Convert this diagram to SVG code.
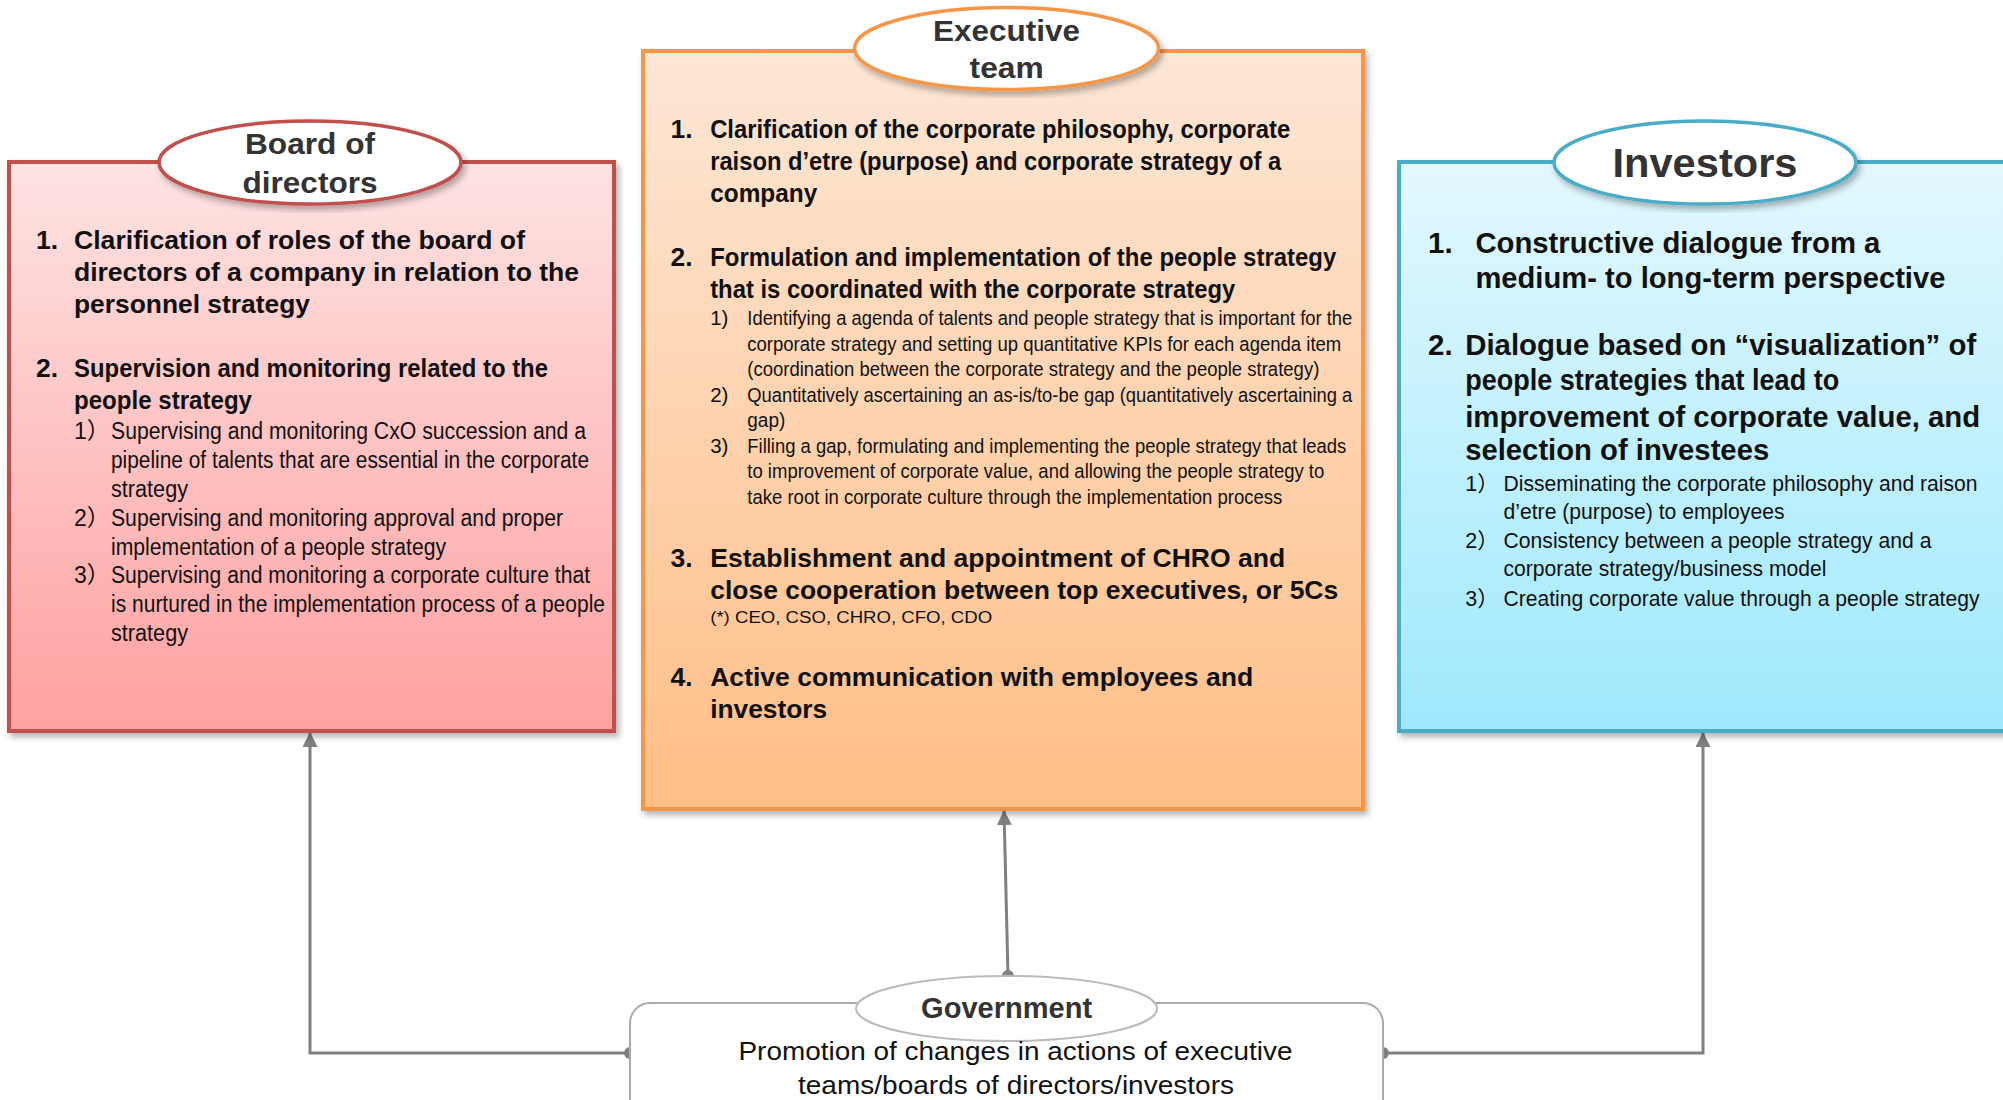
<svg xmlns="http://www.w3.org/2000/svg" width="2003" height="1100" viewBox="0 0 2003 1100">
  <defs>
    <linearGradient id="gRed" x1="0" y1="0" x2="0" y2="1">
      <stop offset="0" stop-color="#fee3e3"/>
      <stop offset="1" stop-color="#ffa1a1"/>
    </linearGradient>
    <linearGradient id="gOrange" x1="0" y1="0" x2="0" y2="1">
      <stop offset="0" stop-color="#fde7d6"/>
      <stop offset="1" stop-color="#ffbe86"/>
    </linearGradient>
    <linearGradient id="gBlue" x1="0" y1="0" x2="0" y2="1">
      <stop offset="0" stop-color="#e3f8fe"/>
      <stop offset="1" stop-color="#9fe9fd"/>
    </linearGradient>
    <filter id="shadow" x="-10%" y="-10%" width="120%" height="120%">
      <feDropShadow dx="3" dy="4" stdDeviation="3" flood-color="#000" flood-opacity="0.3"/>
    </filter>
    <marker id="arrow" viewBox="0 0 10 10" refX="10" refY="5" markerWidth="5" markerHeight="5" orient="auto" markerUnits="strokeWidth">
      <path d="M0,0 L10,5 L0,10 Z" fill="#808080"/>
    </marker>
    <marker id="dot" viewBox="0 0 10 10" refX="5" refY="5" markerWidth="4" markerHeight="4" orient="auto" markerUnits="strokeWidth">
      <circle cx="5" cy="5" r="5" fill="#808080"/>
    </marker>
  </defs>
  <style>
    text { font-family: "Liberation Sans", Arial, "Noto Sans CJK JP", sans-serif; fill: #111; }
    .h { font-weight: bold; font-size: 26.5px; }
    .hi { font-weight: bold; font-size: 29.5px; }
    .s { font-size: 23px; }
    .si { font-size: 21.5px; }
    .se { font-size: 20.5px; }
    .note { font-size: 16px; }
    .lab { font-weight: bold; font-size: 30px; fill: #333; text-anchor: middle; }
    .gov { font-size: 26px; text-anchor: middle; }
    .conn { fill: none; stroke: #808080; stroke-width: 3; }
  </style>

  <rect width="2003" height="1100" fill="#fff"/>

  <!-- connectors from the government node -->
  <g id="connectors">
    <polyline class="conn" points="630,1053 310,1053 310,732" marker-start="url(#dot)" marker-end="url(#arrow)"/>
    <polyline class="conn" points="1383,1053 1703,1053 1703,732" marker-start="url(#dot)" marker-end="url(#arrow)"/>
    <line class="conn" x1="1008" y1="976" x2="1004" y2="810" marker-start="url(#dot)" marker-end="url(#arrow)"/>
  </g>

  <!-- board of directors -->
  <g id="board">
    <rect x="9" y="162" width="605" height="569" fill="url(#gRed)" stroke="#c0504d" stroke-width="4" filter="url(#shadow)"/>
    <ellipse cx="310" cy="162.5" rx="151" ry="41.5" fill="#fff" stroke="#c0504d" stroke-width="3.5" filter="url(#shadow)"/>
    <text class="lab" x="310" y="154" textLength="130" lengthAdjust="spacingAndGlyphs">Board of</text>
    <text class="lab" x="310" y="193" textLength="135" lengthAdjust="spacingAndGlyphs">directors</text>

    <text class="h" x="36" y="249">1.</text>
    <text class="h" x="74" y="249" textLength="451" lengthAdjust="spacingAndGlyphs">Clarification of roles of the board of</text>
    <text class="h" x="74" y="281" textLength="505" lengthAdjust="spacingAndGlyphs">directors of a company in relation to the</text>
    <text class="h" x="74" y="313" textLength="236" lengthAdjust="spacingAndGlyphs">personnel strategy</text>

    <text class="h" x="36" y="377">2.</text>
    <text class="h" x="74" y="377" textLength="474" lengthAdjust="spacingAndGlyphs">Supervision and monitoring related to the</text>
    <text class="h" x="74" y="409" textLength="178" lengthAdjust="spacingAndGlyphs">people strategy</text>

    <text class="s" x="74" y="438.5">1）</text>
    <text class="s" x="111" y="438.5" textLength="475" lengthAdjust="spacingAndGlyphs">Supervising and monitoring CxO succession and a</text>
    <text class="s" x="111" y="468" textLength="478" lengthAdjust="spacingAndGlyphs">pipeline of talents that are essential in the corporate</text>
    <text class="s" x="111" y="497" textLength="77" lengthAdjust="spacingAndGlyphs">strategy</text>
    <text class="s" x="74" y="525.5">2）</text>
    <text class="s" x="111" y="525.5" textLength="452" lengthAdjust="spacingAndGlyphs">Supervising and monitoring approval and proper</text>
    <text class="s" x="111" y="555" textLength="335" lengthAdjust="spacingAndGlyphs">implementation of a people strategy</text>
    <text class="s" x="74" y="583">3）</text>
    <text class="s" x="111" y="583" textLength="479" lengthAdjust="spacingAndGlyphs">Supervising and monitoring a corporate culture that</text>
    <text class="s" x="111" y="612" textLength="494" lengthAdjust="spacingAndGlyphs">is nurtured in the implementation process of a people</text>
    <text class="s" x="111" y="640.5" textLength="77" lengthAdjust="spacingAndGlyphs">strategy</text>
  </g>

  <!-- executive team -->
  <g id="executive">
    <rect x="643" y="51" width="720" height="758" fill="url(#gOrange)" stroke="#f79646" stroke-width="4" filter="url(#shadow)"/>
    <ellipse cx="1006.6" cy="48.5" rx="152" ry="41" fill="#fff" stroke="#f79646" stroke-width="3.5" filter="url(#shadow)"/>
    <text class="lab" x="1006.6" y="41" textLength="147" lengthAdjust="spacingAndGlyphs">Executive</text>
    <text class="lab" x="1006.6" y="78" textLength="74" lengthAdjust="spacingAndGlyphs">team</text>

    <text class="h" x="670.6" y="138">1.</text>
    <text class="h" x="710.2" y="138" textLength="580" lengthAdjust="spacingAndGlyphs">Clarification of the corporate philosophy, corporate</text>
    <text class="h" x="710.2" y="170" textLength="571" lengthAdjust="spacingAndGlyphs">raison d’etre (purpose) and corporate strategy of a</text>
    <text class="h" x="710.2" y="202" textLength="107" lengthAdjust="spacingAndGlyphs">company</text>

    <text class="h" x="670.6" y="266">2.</text>
    <text class="h" x="710.2" y="266" textLength="626" lengthAdjust="spacingAndGlyphs">Formulation and implementation of the people strategy</text>
    <text class="h" x="710.2" y="298" textLength="525" lengthAdjust="spacingAndGlyphs">that is coordinated with the corporate strategy</text>

    <text class="se" x="710.2" y="325">1)</text>
    <text class="se" x="747.3" y="325" textLength="605" lengthAdjust="spacingAndGlyphs">Identifying a agenda of talents and people strategy that is important for the</text>
    <text class="se" x="747.3" y="350.6" textLength="594" lengthAdjust="spacingAndGlyphs">corporate strategy and setting up quantitative KPIs for each agenda item</text>
    <text class="se" x="747.3" y="376" textLength="572" lengthAdjust="spacingAndGlyphs">(coordination between the corporate strategy and the people strategy)</text>
    <text class="se" x="710.2" y="401.7">2)</text>
    <text class="se" x="747.3" y="401.7" textLength="605" lengthAdjust="spacingAndGlyphs">Quantitatively ascertaining an as-is/to-be gap (quantitatively ascertaining a</text>
    <text class="se" x="747.3" y="427" textLength="38" lengthAdjust="spacingAndGlyphs">gap)</text>
    <text class="se" x="710.2" y="452.8">3)</text>
    <text class="se" x="747.3" y="452.8" textLength="599" lengthAdjust="spacingAndGlyphs">Filling a gap, formulating and implementing the people strategy that leads</text>
    <text class="se" x="747.3" y="478.4" textLength="577" lengthAdjust="spacingAndGlyphs">to improvement of corporate value, and allowing the people strategy to</text>
    <text class="se" x="747.3" y="504" textLength="535" lengthAdjust="spacingAndGlyphs">take root in corporate culture through the implementation process</text>

    <text class="h" x="670.6" y="567">3.</text>
    <text class="h" x="710.2" y="567" textLength="575" lengthAdjust="spacingAndGlyphs">Establishment and appointment of CHRO and</text>
    <text class="h" x="710.2" y="599" textLength="628" lengthAdjust="spacingAndGlyphs">close cooperation between top executives, or 5Cs</text>
    <text class="note" x="710.2" y="623" textLength="282" lengthAdjust="spacingAndGlyphs">(*) CEO, CSO, CHRO, CFO, CDO</text>

    <text class="h" x="670.6" y="686">4.</text>
    <text class="h" x="710.2" y="686" textLength="543" lengthAdjust="spacingAndGlyphs">Active communication with employees and</text>
    <text class="h" x="710.2" y="718" textLength="117" lengthAdjust="spacingAndGlyphs">investors</text>
  </g>

  <!-- investors -->
  <g id="investors">
    <rect x="1399" y="162" width="620" height="569" fill="url(#gBlue)" stroke="#4bacc6" stroke-width="4" filter="url(#shadow)"/>
    <ellipse cx="1705" cy="162.5" rx="151" ry="41.5" fill="#fff" stroke="#4bacc6" stroke-width="3.5" filter="url(#shadow)"/>
    <text class="lab" x="1705" y="177" style="font-size:41px" textLength="185" lengthAdjust="spacingAndGlyphs">Investors</text>

    <text class="hi" x="1428" y="253">1.</text>
    <text class="hi" x="1475.4" y="253" textLength="405" lengthAdjust="spacingAndGlyphs">Constructive dialogue from a</text>
    <text class="hi" x="1475.4" y="287.5" textLength="470" lengthAdjust="spacingAndGlyphs">medium- to long-term perspective</text>

    <text class="hi" x="1428" y="355">2.</text>
    <text class="hi" x="1465.2" y="355" textLength="511" lengthAdjust="spacingAndGlyphs">Dialogue based on “visualization” of</text>
    <text class="hi" x="1465.2" y="389.5" textLength="374" lengthAdjust="spacingAndGlyphs">people strategies that lead to</text>
    <text class="hi" x="1465.2" y="426.5" textLength="515" lengthAdjust="spacingAndGlyphs">improvement of corporate value, and</text>
    <text class="hi" x="1465.2" y="459.6" textLength="304" lengthAdjust="spacingAndGlyphs">selection of investees</text>

    <text class="si" x="1465.2" y="491">1）</text>
    <text class="si" x="1503.5" y="491" textLength="474" lengthAdjust="spacingAndGlyphs">Disseminating the corporate philosophy and raison</text>
    <text class="si" x="1503.5" y="519" textLength="281" lengthAdjust="spacingAndGlyphs">d’etre (purpose) to employees</text>
    <text class="si" x="1465.2" y="548.3">2）</text>
    <text class="si" x="1503.5" y="548.3" textLength="428" lengthAdjust="spacingAndGlyphs">Consistency between a people strategy and a</text>
    <text class="si" x="1503.5" y="576.4" textLength="323" lengthAdjust="spacingAndGlyphs">corporate strategy/business model</text>
    <text class="si" x="1465.2" y="606">3）</text>
    <text class="si" x="1503.5" y="606" textLength="476" lengthAdjust="spacingAndGlyphs">Creating corporate value through a people strategy</text>
  </g>

  <!-- government -->
  <g id="government">
    <rect x="630" y="1003" width="753" height="120" rx="20" ry="20" fill="#fff" stroke="#aaaaaa" stroke-width="2"/>
    <ellipse cx="1006.6" cy="1008.5" rx="150.5" ry="32.5" fill="#fff" stroke="#bbbbbb" stroke-width="2"/>
    <text class="lab" x="1006.6" y="1018" style="font-size:29px" textLength="171" lengthAdjust="spacingAndGlyphs">Government</text>
    <text class="gov" x="1015.5" y="1060" textLength="554" lengthAdjust="spacingAndGlyphs">Promotion of changes in actions of executive</text>
    <text class="gov" x="1016" y="1094" textLength="436" lengthAdjust="spacingAndGlyphs">teams/boards of directors/investors</text>
  </g>
</svg>
